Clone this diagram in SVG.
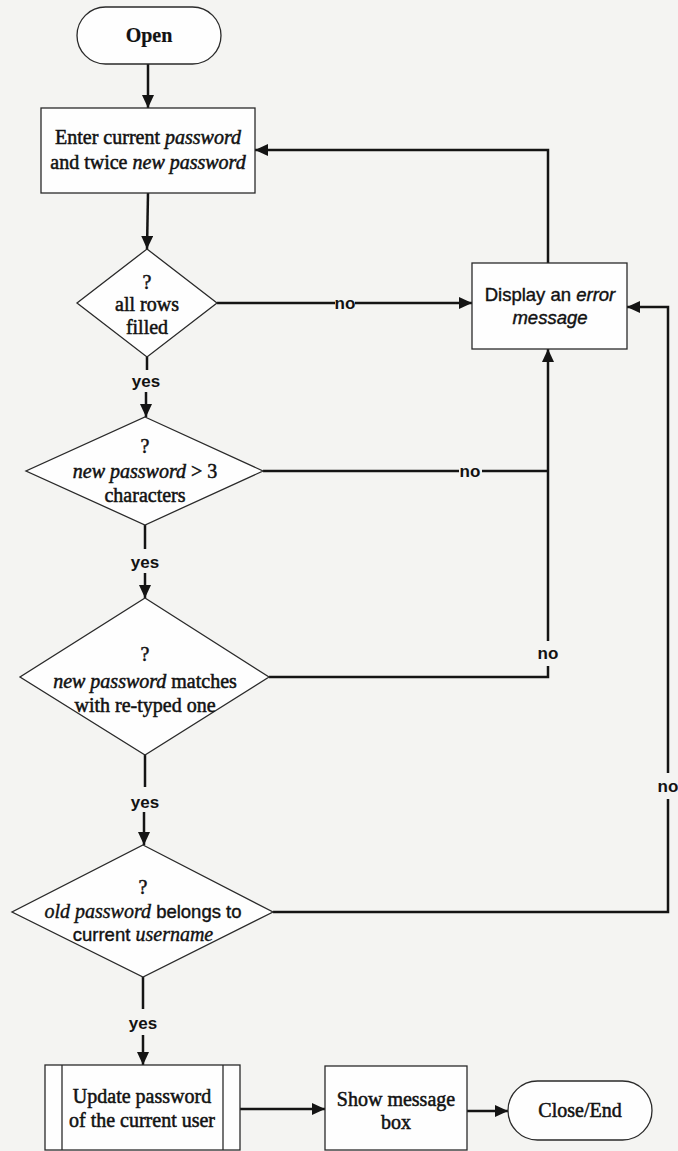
<svg xmlns="http://www.w3.org/2000/svg" width="678" height="1151" viewBox="0 0 678 1151">
  <defs>
    <marker id="arrow" viewBox="0 0 13 12" refX="13" refY="6" markerWidth="13" markerHeight="12" markerUnits="userSpaceOnUse" orient="auto">
      <path d="M0,0 L13,6 L0,12 z" fill="#141414"/>
    </marker>
    <style>
      .node { fill: #fefefe; stroke: #2a2a2a; stroke-width: 1.3; }
      .edge { fill: none; stroke: #141414; stroke-width: 2.5; }
      .arr { marker-end: url(#arrow); }
      .serif { font-family: "Liberation Serif", "Times New Roman", serif; font-size: 20px; fill: #121212; stroke: #121212; stroke-width: 0.5; text-anchor: middle; }
      .sans { font-family: "Liberation Sans", Arial, sans-serif; font-size: 18.5px; fill: #121212; stroke: #121212; stroke-width: 0.4; text-anchor: middle; }
      .lbl { font-family: "Liberation Sans", Arial, sans-serif; font-size: 17px; font-weight: bold; fill: #121212; text-anchor: middle; }
      .b { font-weight: bold; stroke-width: 0.2; }
      .it { font-style: italic; }
      .it-serif { font-family: "Liberation Serif", "Times New Roman", serif; font-style: italic; font-size: 20px; }
    </style>
  </defs>

  <rect width="678" height="1151" fill="#f4f4f2"/>

  <!-- connectors -->
  <g id="connectors">
    <line class="edge arr" x1="148" y1="64" x2="148" y2="108"/>
    <line class="edge arr" x1="148" y1="193" x2="147" y2="249"/>

    <!-- yes branches -->
    <line class="edge" x1="147" y1="357" x2="147" y2="370"/>
    <line class="edge arr" x1="146" y1="392" x2="146" y2="417"/>
    <line class="edge" x1="145" y1="525" x2="145" y2="549"/>
    <line class="edge arr" x1="145" y1="573" x2="145" y2="598"/>
    <line class="edge" x1="145" y1="755" x2="145" y2="787"/>
    <line class="edge arr" x1="144" y1="812" x2="144" y2="845"/>
    <line class="edge" x1="143" y1="977" x2="143" y2="1009"/>
    <line class="edge arr" x1="143" y1="1035" x2="143" y2="1065"/>

    <line class="edge arr" x1="240" y1="1109" x2="325" y2="1109"/>
    <line class="edge arr" x1="467" y1="1111" x2="508" y2="1111"/>

    <!-- no branches -->
    <line class="edge" x1="217" y1="303" x2="335" y2="303"/>
    <line class="edge arr" x1="355" y1="303" x2="472" y2="303"/>
    <line class="edge" x1="263" y1="471" x2="459" y2="471"/>
    <line class="edge" x1="482" y1="471" x2="548" y2="471"/>
    <polyline class="edge" points="269,677 548,677 548,666"/>
    <line class="edge arr" x1="548" y1="641" x2="548" y2="349"/>
    <polyline class="edge" points="273,912 668,912 668,799"/>
    <polyline class="edge arr" points="668,773 668,307 627,307"/>

    <!-- retry loop -->
    <polyline class="edge arr" points="548,263 548,150 255,150"/>

    <text class="lbl" x="146" y="387">yes</text>
    <text class="lbl" x="145" y="568">yes</text>
    <text class="lbl" x="145" y="808">yes</text>
    <text class="lbl" x="143" y="1029">yes</text>
    <text class="lbl" x="345" y="309">no</text>
    <text class="lbl" x="470" y="477">no</text>
    <text class="lbl" x="548" y="659">no</text>
    <text class="lbl" x="668" y="792">no</text>
  </g>

  <g id="open">
    <rect class="node" x="77" y="7" width="144" height="57" rx="28.5"/>
    <text class="serif b" x="149" y="42">Open</text>
  </g>

  <g id="enter-passwords">
    <rect class="node" x="41" y="108" width="214" height="85"/>
    <text class="serif" x="148" y="144">Enter current <tspan class="it">password</tspan></text>
    <text class="serif" x="148" y="169">and twice <tspan class="it">new password</tspan></text>
  </g>

  <g id="rows-filled">
    <polygon class="node" points="147,249 217,303 147,357 77,303"/>
    <text class="serif" x="147" y="289">?</text>
    <text class="serif" x="147" y="311">all rows</text>
    <text class="serif" x="147" y="334">filled</text>
  </g>

  <g id="length-check">
    <polygon class="node" points="145,417 263,471 145,525 26,471"/>
    <text class="serif" x="145" y="453">?</text>
    <text class="serif" x="145" y="478"><tspan class="it">new password</tspan> &gt; 3</text>
    <text class="serif" x="145" y="502">characters</text>
  </g>

  <g id="retype-check">
    <polygon class="node" points="145,598 269,677 145,755 20,677"/>
    <text class="serif" x="145" y="661">?</text>
    <text class="serif" x="145" y="688"><tspan class="it">new password</tspan> matches</text>
    <text class="serif" x="145" y="712">with re-typed one</text>
  </g>

  <g id="owner-check">
    <polygon class="node" points="143,845 273,912 143,977 12,912"/>
    <text class="serif" x="143" y="894">?</text>
    <text class="sans" x="143" y="918"><tspan class="it-serif">old password</tspan> belongs to</text>
    <text class="sans" x="143" y="941">current <tspan class="it-serif">username</tspan></text>
  </g>

  <g id="error-message">
    <rect class="node" x="472" y="263" width="155" height="86"/>
    <text class="sans" x="550" y="301">Display an <tspan class="it">error</tspan></text>
    <text class="sans it" x="550" y="324">message</text>
  </g>

  <g id="update-password">
    <rect class="node" x="45" y="1065" width="195" height="85"/>
    <line class="node" x1="62" y1="1065" x2="62" y2="1150"/>
    <line class="node" x1="223" y1="1065" x2="223" y2="1150"/>
    <text class="serif" x="142" y="1103">Update password</text>
    <text class="serif" x="142" y="1127">of the current user</text>
  </g>

  <g id="show-message">
    <rect class="node" x="325" y="1066" width="142" height="84"/>
    <text class="serif" x="396" y="1106">Show message</text>
    <text class="serif" x="396" y="1129">box</text>
  </g>

  <g id="close-end">
    <rect class="node" x="508" y="1081" width="144" height="59" rx="29.5"/>
    <text class="serif" x="580" y="1117">Close/End</text>
  </g>
</svg>
